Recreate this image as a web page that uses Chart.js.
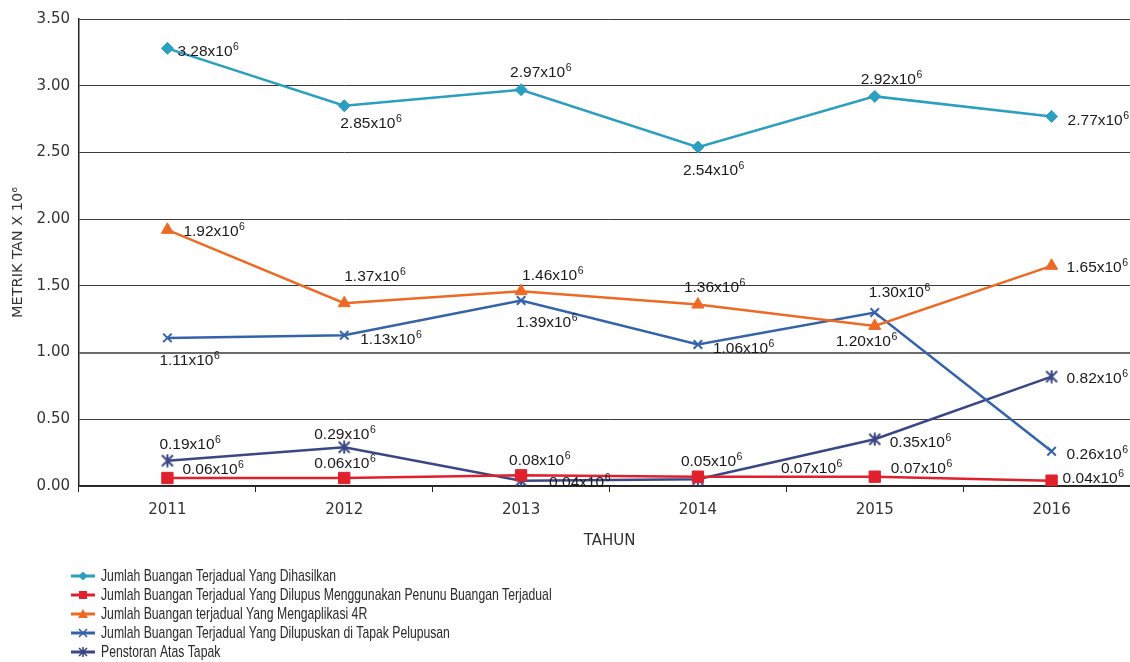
<!DOCTYPE html>
<html>
<head>
<meta charset="utf-8">
<script src="https://cdn.jsdelivr.net/npm/chart.js@4.4.1/dist/chart.umd.min.js"></script>
<style>
  html, body { margin: 0; padding: 0; background: #fff; overflow: hidden; }
  #wrap { position: relative; width: 1149px; height: 662px; }
</style>
</head>
<body>
<div id="wrap"><canvas id="c"></canvas></div>
<script>
// ---- data ----
const categories = ['2011', '2012', '2013', '2014', '2015', '2016'];
const seriesNames = [
  'Jumlah Buangan Terjadual Yang Dihasilkan',
  'Jumlah Buangan Terjadual Yang Dilupus Menggunakan Penunu Buangan Terjadual',
  'Jumlah Buangan terjadual Yang Mengaplikasi 4R',
  'Jumlah Buangan Terjadual Yang Dilupuskan di Tapak Pelupusan',
  'Penstoran Atas Tapak'
];
const dihasilkan     = [3.28, 2.85, 2.97, 2.54, 2.92, 2.77];
const dilupusPenunu  = [0.06, 0.06, 0.08, 0.07, 0.07, 0.04];
const aplikasi4R     = [1.92, 1.37, 1.46, 1.36, 1.20, 1.65];
const dilupusTapak   = [1.11, 1.13, 1.39, 1.06, 1.30, 0.26];
const penstoranTapak = [0.19, 0.29, 0.04, 0.05, 0.35, 0.82];
const yTickStep = 0.5;
const yMax = 3.5;

// ---- styles / label placement (pixel offsets from each point) ----
const colors = ['#2A9FC0', '#E0202C', '#EE6A24', '#3463AA', '#3A4784'];
const labelOffsets = [
  [[10, 2], [-4, 17], [-11, -18], [-15, 22], [-14, -18], [16, 3]],
  [[15, -9], [-30, -15], [-12, -16], [83, -9], [16, -9], [11, -3]],
  [[16, 1], [0, -28], [1, -17], [-14, -18], [-39, 15], [15, 1]],
  [[-8, 22], [16, 3], [-5, 21], [15, 3], [-6, -21], [15, 2]],
  [[-8, -17], [-30, -14], [28, 1], [-17, -19], [15, 2], [15, 1]]
];

function makeStar(size, color, lw) {
  const cv = document.createElement('canvas');
  cv.width = size; cv.height = size;
  const g = cv.getContext('2d');
  g.strokeStyle = color; g.lineWidth = lw; g.lineCap = 'butt';
  const m = 1.5, s = size;
  g.beginPath();
  g.moveTo(m, m); g.lineTo(s - m, s - m);
  g.moveTo(s - m, m); g.lineTo(m, s - m);
  g.moveTo(s / 2, 0.5); g.lineTo(s / 2, s - 0.5);
  g.stroke();
  return cv;
}
const starImg = makeStar(14, colors[4], 2);

const valueSets = [dihasilkan, dilupusPenunu, aplikasi4R, dilupusTapak, penstoranTapak];
const pointStyles = ['rectRot', 'rect', 'triangle', 'crossRot', starImg];
const pointRadii = [6, 8, 7, 6, 7];

const datasets = valueSets.map((vals, i) => ({
  label: seriesNames[i],
  data: vals,
  borderColor: colors[i],
  backgroundColor: colors[i],
  borderWidth: 2.5,
  tension: 0,
  pointStyle: pointStyles[i],
  pointRadius: pointRadii[i],
  pointHoverRadius: pointRadii[i],
  pointBorderWidth: i === 3 ? 2 : 1,
  pointBorderColor: colors[i],
  pointBackgroundColor: colors[i]
}));

const LABEL_FONT = '15.5px "Liberation Sans", Arial, sans-serif';
const SUP_FONT = '10.5px "Liberation Sans", Arial, sans-serif';

const dataLabelPlugin = {
  id: 'dataLabels',
  afterDatasetsDraw(chart) {
    const ctx = chart.ctx;
    ctx.save();
    ctx.fillStyle = '#1a1a1a';
    chart.data.datasets.forEach((ds, di) => {
      const meta = chart.getDatasetMeta(di);
      meta.data.forEach((pt, i) => {
        const off = labelOffsets[di][i];
        const x = pt.x + off[0];
        const cy = pt.y + off[1];
        const main = ds.data[i].toFixed(2) + 'x10';
        ctx.font = LABEL_FONT;
        ctx.textAlign = 'left';
        ctx.textBaseline = 'alphabetic';
        ctx.fillText(main, x, cy + 5.5);
        const w = ctx.measureText(main).width;
        ctx.font = SUP_FONT;
        ctx.fillText('6', x + w + 0.5, cy - 0.5);
      });
    });
    ctx.restore();
  }
};

function drawLegendMarker(ctx, i, x, y) {
  const c = colors[i];
  ctx.fillStyle = c; ctx.strokeStyle = c;
  if (i === 0) {
    ctx.beginPath(); ctx.moveTo(x, y - 4.5); ctx.lineTo(x + 4.5, y); ctx.lineTo(x, y + 4.5); ctx.lineTo(x - 4.5, y); ctx.closePath(); ctx.fill();
  } else if (i === 1) {
    ctx.fillRect(x - 4, y - 4, 8, 8);
  } else if (i === 2) {
    ctx.beginPath(); ctx.moveTo(x, y - 5); ctx.lineTo(x + 5, y + 4); ctx.lineTo(x - 5, y + 4); ctx.closePath(); ctx.fill();
  } else if (i === 3) {
    ctx.lineWidth = 1.6; ctx.beginPath();
    ctx.moveTo(x - 4, y - 4); ctx.lineTo(x + 4, y + 4); ctx.moveTo(x + 4, y - 4); ctx.lineTo(x - 4, y + 4); ctx.stroke();
  } else {
    ctx.lineWidth = 1.6; ctx.beginPath();
    ctx.moveTo(x - 4, y - 4); ctx.lineTo(x + 4, y + 4); ctx.moveTo(x + 4, y - 4); ctx.lineTo(x - 4, y + 4);
    ctx.moveTo(x, y - 5); ctx.lineTo(x, y + 5); ctx.stroke();
  }
}

const LEGEND_FONT = '17px "Liberation Sans Narrow", "Arial Narrow", sans-serif';
const LEGEND_FIRST_WIDTH = 235;

const legendPlugin = {
  id: 'customLegend',
  afterDraw(chart) {
    const ctx = chart.ctx;
    ctx.save();
    const x0 = 71, x1 = 95, tx = 101, y0 = 576, dy = 19;
    ctx.font = LEGEND_FONT;
    const sx = LEGEND_FIRST_WIDTH / ctx.measureText(chart.data.datasets[0].label).width;
    chart.data.datasets.forEach((ds, i) => {
      const y = y0 + i * dy;
      ctx.strokeStyle = colors[i];
      ctx.lineWidth = 3;
      ctx.beginPath(); ctx.moveTo(x0, y); ctx.lineTo(x1, y); ctx.stroke();
      drawLegendMarker(ctx, i, (x0 + x1) / 2, y);
      ctx.save();
      ctx.translate(tx, y + 0.5);
      ctx.scale(sx, 1);
      ctx.fillStyle = '#2a2a2a';
      ctx.font = LEGEND_FONT;
      ctx.textAlign = 'left';
      ctx.textBaseline = 'middle';
      ctx.fillText(ds.label, 0, 0);
      ctx.restore();
    });
    ctx.restore();
  }
};

new Chart(document.getElementById('c'), {
  type: 'line',
  data: { labels: categories, datasets },
  plugins: [dataLabelPlugin, legendPlugin],
  options: {
    responsive: true,
    maintainAspectRatio: false,
    devicePixelRatio: 1,
    animation: false,
    layout: { padding: { top: 19, left: 0, right: 0, bottom: 112 } },
    plugins: { legend: { display: false }, tooltip: { enabled: false } },
    scales: {
      x: {
        type: 'category',
        offset: true,
        afterFit(scale) { scale.height = 64; },
        grid: { offset: true, drawOnChartArea: false, drawTicks: true, tickLength: 6, color: '#222', lineWidth: 1 },
        border: { display: true, color: '#222', width: 1.5 },
        ticks: { color: '#333', padding: 9, font: { family: '"DejaVu Sans", sans-serif', size: 15 } },
        title: { display: true, text: 'TAHUN', color: '#333', padding: { top: 0, bottom: 0 }, font: { family: '"DejaVu Sans", sans-serif', size: 15 } }
      },
      y: {
        min: 0,
        max: yMax,
        afterFit(scale) { scale.width = 79; },
        grid: {
          drawTicks: false,
          color: (c) => (c.tick && c.tick.value === 1 ? '#6a6a6a' : '#3a3a3a'),
          lineWidth: (c) => (c.tick && c.tick.value === 1 ? 2 : 1)
        },
        border: { display: true, color: '#222', width: 1.5 },
        ticks: {
          stepSize: yTickStep,
          color: '#333',
          padding: 9,
          font: { family: '"DejaVu Sans", sans-serif', size: 15 },
          callback: (v) => Number(v).toFixed(2)
        },
        title: { display: true, text: 'METRIK TAN X 10\u2076', color: '#333', padding: { top: 10, bottom: 0 }, font: { family: '"DejaVu Sans", sans-serif', size: 14.5 } }
      }
    }
  }
});
</script>
</body>
</html>
